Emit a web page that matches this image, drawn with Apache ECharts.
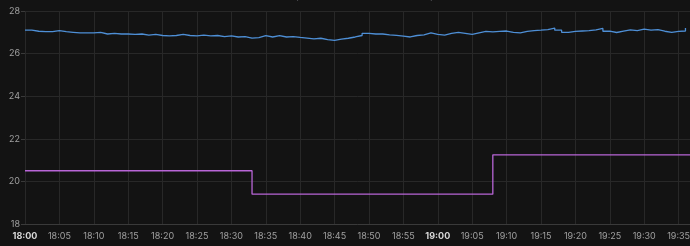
<!DOCTYPE html>
<html><head><meta charset="utf-8">
<style>html,body{margin:0;padding:0;background:#131313;}#c{width:690px;height:246px;}</style>
<script src="https://cdn.jsdelivr.net/npm/echarts@6/dist/echarts.min.js"></script>
</head><body><div id="c"></div>
<script>
// minutes after 18:00 for each sample
var tempMinutes = [];
for (var i = 0; i <= 96; i++) tempMinutes.push(i);
var tempValues = [27.10,27.05,27.03,27.03,27.08,27.03,27.00,26.97,26.97,26.97,
27.00,26.92,26.95,26.92,26.92,26.90,26.92,26.87,26.90,26.85,
26.83,26.85,26.90,26.85,26.83,26.87,26.83,26.85,26.80,26.83,
26.78,26.80,26.73,26.75,26.84,26.78,26.84,26.78,26.80,26.76,
26.73,26.69,26.72,26.66,26.62,26.68,26.72,26.78,26.85,26.95,
26.92,26.92,26.88,26.86,26.82,26.78,26.85,26.88,26.97,26.90,
26.87,26.95,27.00,26.95,26.90,26.97,27.04,27.02,27.04,27.06,
27.00,26.97,27.04,27.08,27.10,27.13,27.20,27.10,27.00,27.04,
27.06,27.08,27.11,27.18,27.05,26.99,27.05,27.11,27.08,27.15,
27.10,27.13,27.05,27.00,27.04,27.06,27.20];
var setMinutes = [0, 33, 68, 96.7];
var setValues = [20.5, 19.4, 21.25, 21.25];
var yTicks = [18, 20, 22, 24, 26, 28];
var seriesNames = ['Temperature', 'Target temperature'];

var start = new Date(2024, 0, 1, 18, 0, 0).getTime();
function t(m) { return start + m * 60000; }
var tempData = tempMinutes.map(function (m, i) { return [t(m), tempValues[i]]; });
var setData = setMinutes.map(function (m, i) { return [t(m), setValues[i]]; });
function pad(n) { return (n < 10 ? '0' : '') + n; }

var chart = echarts.init(document.getElementById('c'));
chart.setOption({
  backgroundColor: '#131313',
  animation: false,
  legend: {
    top: -16, left: 255, itemGap: 20, icon: 'circle', itemWidth: 9, itemHeight: 9,
    textStyle: { color: '#ccccdc', fontSize: 11, fontFamily: 'Inter' },
    data: seriesNames
  },
  grid: { left: 25, right: 0, top: 11, bottom: 22, containLabel: false, outerBoundsMode: 'none' },
  xAxis: {
    type: 'value',
    min: t(0), max: t(96.66), interval: 300000,
    axisLine: { show: true, lineStyle: { color: '#3a3a3a' } },
    axisTick: { show: false },
    splitLine: { show: true, lineStyle: { color: '#282828', width: 1 } },
    axisLabel: {
      color: '#a0a0a0', fontSize: 9, fontFamily: 'Inter', margin: 8,
      showMaxLabel: false,
      formatter: function (v) {
        var d = new Date(v);
        var s = pad(d.getHours()) + ':' + pad(d.getMinutes());
        return d.getMinutes() === 0 ? '{b|' + s + '}' : s;
      },
      rich: { b: { fontWeight: 'bold', color: '#d8d8d8', fontSize: 9, fontFamily: 'Inter' } }
    }
  },
  yAxis: {
    type: 'value', min: 18, max: 28, interval: 2,
    name: '°C', nameLocation: 'middle', nameGap: 21, nameRotate: 90,
    nameTextStyle: { color: '#a0a0a0', fontSize: 10, fontFamily: 'Inter' },
    axisLine: { show: false },
    axisTick: { show: true, length: 4, lineStyle: { color: '#3a3a3a' } },
    splitLine: { show: true, lineStyle: { color: '#282828', width: 1 } },
    axisLabel: {
      color: '#a0a0a0', fontSize: 9, fontFamily: 'Inter', margin: 5,
      formatter: function (v) { return yTicks.indexOf(v) >= 0 ? String(v) : ''; }
    }
  },
  series: [
    { name: seriesNames[0], type: 'line', step: 'end', data: tempData, showSymbol: false,
      lineStyle: { color: '#4e8fd6', width: 1.3 }, itemStyle: { color: '#5794f2' } },
    { name: seriesNames[1], type: 'line', step: 'end', data: setData, showSymbol: false,
      lineStyle: { color: '#b865d6', width: 1.3 }, itemStyle: { color: '#b877d9' } }
  ]
});
</script></body></html>
